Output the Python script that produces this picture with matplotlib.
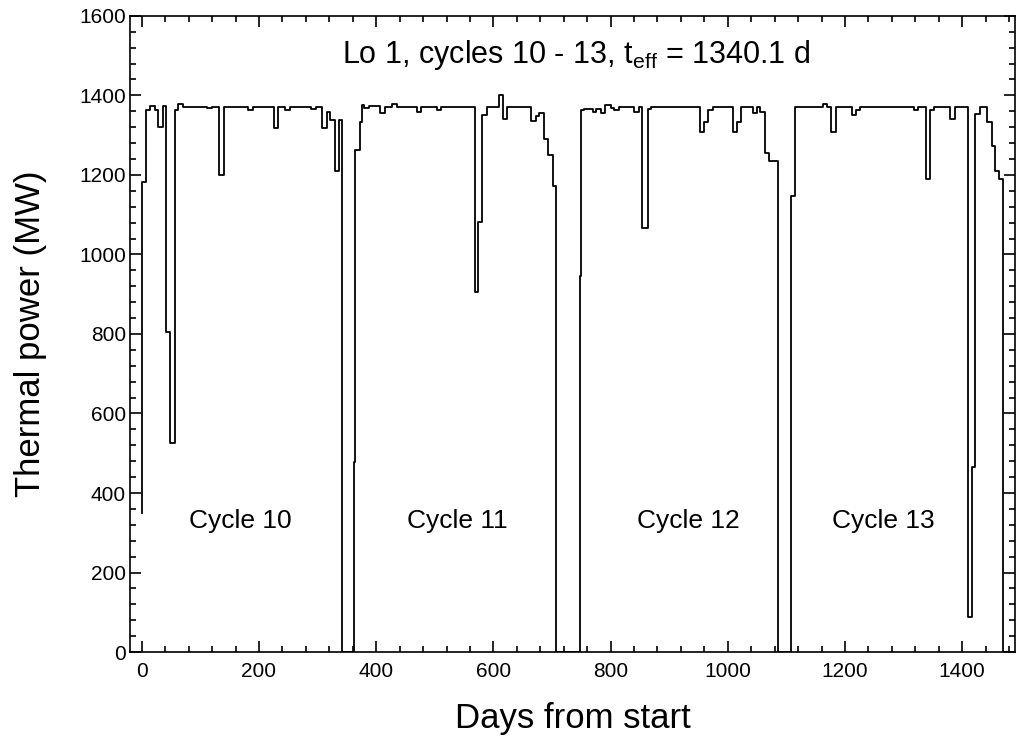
import matplotlib
matplotlib.use("Agg")
import matplotlib.pyplot as plt
from matplotlib.ticker import MultipleLocator

plt.rcParams['font.family'] = ['Liberation Sans', 'DejaVu Sans']
plt.rcParams['mathtext.fontset'] = 'custom'
plt.rcParams['mathtext.rm'] = 'Liberation Sans'
plt.rcParams['mathtext.it'] = 'Liberation Sans:italic'

# Step breakpoints: (day from start, thermal power in MW from that day on)
cycle10_days = [0, 0.5, 8, 14, 22, 28, 36, 42, 49, 56, 62, 71, 111, 120, 132, 141,
                182, 190, 225, 232, 245, 253, 289, 297, 307, 316, 322, 329, 336, 342]
cycle10_power = [350, 1182, 1364, 1372, 1364, 1321, 1372, 806, 527, 1362, 1379, 1370, 1367, 1370, 1200, 1370,
                 1362, 1370, 1319, 1370, 1362, 1370, 1366, 1370, 1319, 1359, 1337, 1211, 1337, 0]

cycle11_days = [362, 364.5, 372, 376, 379, 387, 406, 415, 427, 435, 469, 477, 503, 511,
                568, 574, 581, 589, 609, 616, 624, 664, 673, 678, 687, 694, 701, 706]
cycle11_power = [479, 1263, 1332, 1376, 1368, 1372, 1355, 1370, 1379, 1370, 1359, 1370, 1362, 1370,
                 905, 1082, 1351, 1370, 1400, 1341, 1370, 1335, 1348, 1355, 1290, 1250, 1171, 0]

cycle12_days = [747, 750, 755, 770, 775, 784, 791, 800, 806, 814, 840, 849, 854, 863, 869,
                952, 960, 967, 975, 1009, 1016, 1023, 1043, 1049, 1055, 1063, 1070, 1085]
cycle12_power = [945, 1362, 1365, 1359, 1365, 1355, 1376, 1368, 1362, 1370, 1359, 1370, 1066, 1365, 1370,
                 1309, 1334, 1362, 1370, 1307, 1334, 1370, 1355, 1370, 1357, 1255, 1235, 0]

cycle13_days = [1107, 1114, 1163, 1170, 1176, 1184, 1212, 1219, 1226, 1317, 1325, 1338, 1345, 1352,
                1379, 1387, 1409, 1416, 1422, 1430, 1443, 1450, 1456, 1463, 1470, 1485]
cycle13_power = [1146, 1370, 1379, 1370, 1309, 1370, 1351, 1362, 1370, 1362, 1370, 1190, 1362, 1370,
                 1341, 1370, 88, 466, 1353, 1370, 1334, 1273, 1211, 1189, 0, 0]

cycle_labels = ["Cycle 10", "Cycle 11", "Cycle 12", "Cycle 13"]
cycle_label_x = [168, 538, 932, 1265]
cycle_label_y = 330

title_text = r"Lo 1, cycles 10 - 13, t$_{\rm eff}$ = 1340.1 d"

days = cycle10_days + cycle11_days + cycle12_days + cycle13_days
power = cycle10_power + cycle11_power + cycle12_power + cycle13_power

fig = plt.figure(figsize=(10.16, 7.53), dpi=100)
ax = fig.add_axes([0.128, 0.134, 0.871, 0.845])

ax.step(days, power, where='post', color='black', linewidth=1.3)

ax.set_xlim(-20, 1490)
ax.set_ylim(0, 1600)
ax.xaxis.set_major_locator(MultipleLocator(200))
ax.xaxis.set_minor_locator(MultipleLocator(40))
ax.yaxis.set_major_locator(MultipleLocator(200))
ax.yaxis.set_minor_locator(MultipleLocator(40))
ax.tick_params(which='both', direction='in', top=True, right=True, width=1.2, labelsize=15)
ax.tick_params(which='major', length=8)
ax.tick_params(which='minor', length=4)
ax.tick_params(axis='x', pad=7)
ax.tick_params(axis='y', pad=3)
for s in ax.spines.values():
    s.set_linewidth(1.2)

ax.set_xlabel("Days from start", fontsize=25)
ax.set_ylabel("Thermal power (MW)", fontsize=25)
ax.xaxis.label.set_va('center')
ax.yaxis.label.set_va('center')
ax.xaxis.set_label_coords(0.5, -0.104)
ax.yaxis.set_label_coords(-0.113, 0.5)

ax.text(741, 1502, title_text, fontsize=22, ha='center', va='center')
for lbl, x in zip(cycle_labels, cycle_label_x):
    ax.text(x, cycle_label_y, lbl, fontsize=19, ha='center', va='center')

fig.savefig("out.png", dpi=100)
